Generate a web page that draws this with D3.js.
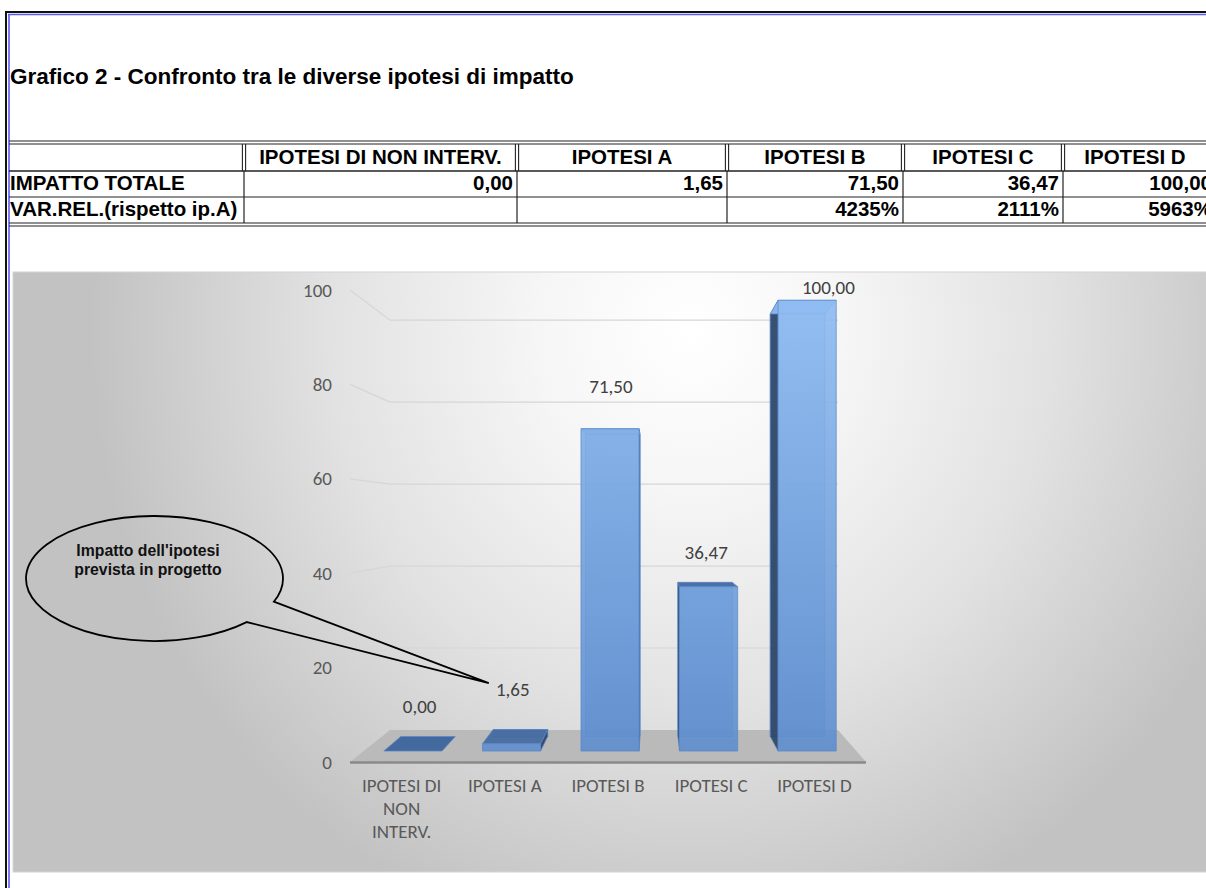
<!DOCTYPE html>
<html>
<head>
<meta charset="utf-8">
<script src="https://cdn.jsdelivr.net/npm/d3@7"></script>
<style>
  body { margin: 0; background: #ffffff; }
  svg { display: block; }
</style>
</head>
<body>
<svg id="chart" width="1206" height="888"></svg>
<script>
// ---- data ----
const title = "Grafico 2 - Confronto tra le diverse ipotesi di impatto";
const categories = ["IPOTESI DI NON INTERV.", "IPOTESI A", "IPOTESI B", "IPOTESI C", "IPOTESI D"];
const impattoTotale = [0.00, 1.65, 71.50, 36.47, 100.00];
const varRel = [null, null, 4235, 2111, 5963];          // % rispetto ip.A
const rowLabels = ["IMPATTO TOTALE", "VAR.REL.(rispetto ip.A)"];
const yTicks = [0, 20, 40, 60, 80, 100];
const calloutLines = ["Impatto dell'ipotesi", "prevista in progetto"];
const calloutTarget = "IPOTESI A";

// ---- formatting (Italian locale) ----
const it = d3.formatLocale({ decimal: ",", thousands: ".", grouping: [3], currency: ["€", ""] });
const fmt2 = it.format(".2f");
const fmtPct = v => it.format("d")(v) + "%";

const svg = d3.select("#chart");
const defs = svg.append("defs");

const TABLE_FONT = "'Liberation Sans', Arial, Helvetica, sans-serif";
const CHART_FONT = "Carlito, Calibri, Lato, 'Open Sans', sans-serif";
const CHART_SIZE = 19;

// ---- outer sheet frame ----
svg.append("line").attr("x1", 6).attr("x2", 6).attr("y1", 11).attr("y2", 888).attr("stroke", "#111").attr("stroke-width", 2);
svg.append("line").attr("x1", 5).attr("x2", 1206).attr("y1", 12).attr("y2", 12).attr("stroke", "#111").attr("stroke-width", 2);
svg.append("line").attr("x1", 9).attr("x2", 9).attr("y1", 14).attr("y2", 888).attr("stroke", "#5a5af0").attr("stroke-width", 1.6);
svg.append("line").attr("x1", 8).attr("x2", 1206).attr("y1", 14.5).attr("y2", 14.5).attr("stroke", "#5a5af0").attr("stroke-width", 1.6);

// ---- title ----
svg.append("text")
  .attr("x", 10).attr("y", 84)
  .attr("font-family", TABLE_FONT).attr("font-weight", "bold").attr("font-size", 22.5)
  .attr("fill", "#000")
  .text(title);

// ---- summary table ----
const colEdges = [9, 244, 517, 727, 903, 1063, 1218];
const tTop = 141, tHead = 171, tRow1 = 197, tBottom = 223;
const tg = svg.append("g").attr("font-family", TABLE_FONT).attr("font-weight", "bold").attr("font-size", 20.5).attr("fill", "#000");

// horizontal rules
[[tTop, 1.2], [tTop + 3, 1.2], [tHead, 1.4], [tRow1, 1.2], [tBottom, 1.2], [tBottom + 3, 1.2]].forEach(([yy, w]) => {
  tg.append("line").attr("x1", 9).attr("x2", 1206).attr("y1", yy).attr("y2", yy)
    .attr("stroke", "#222").attr("stroke-width", w);
});
// vertical rules: double in header row, single in data rows
colEdges.slice(1, -1).forEach(cx => {
  [-1.6, 1.6].forEach(o => tg.append("line").attr("x1", cx + o).attr("x2", cx + o)
    .attr("y1", tTop + 3).attr("y2", tHead).attr("stroke", "#222").attr("stroke-width", 1.1));
  tg.append("line").attr("x1", cx).attr("x2", cx).attr("y1", tHead).attr("y2", tBottom)
    .attr("stroke", "#222").attr("stroke-width", 1.2);
});
// header labels
categories.forEach((c, i) => {
  const last = i === categories.length - 1;
  tg.append("text")
    .attr("x", last ? colEdges[i + 1] + 72 : (colEdges[i + 1] + colEdges[i + 2]) / 2)
    .attr("y", 164).attr("text-anchor", "middle").text(c);
});
// row labels
tg.append("text").attr("x", 10).attr("y", 190).text(rowLabels[0]);
tg.append("text").attr("x", 10).attr("y", 216).text(rowLabels[1]);
// values (right aligned; the last column runs past the sheet edge)
const valueX = i => colEdges[i + 2] - 4 - (i === categories.length - 1 ? 2 : 0);
impattoTotale.forEach((v, i) => {
  tg.append("text").attr("x", valueX(i)).attr("y", 190).attr("text-anchor", "end").text(fmt2(v));
});
varRel.forEach((v, i) => {
  if (v == null) return;
  tg.append("text").attr("x", valueX(i)).attr("y", 216).attr("text-anchor", "end").text(fmtPct(v));
});

// ---- chart area with soft gray gradient ----
const bg = defs.append("radialGradient").attr("id", "bgGrad")
  .attr("gradientUnits", "userSpaceOnUse")
  .attr("cx", 690).attr("cy", 330).attr("r", 600)
  .attr("gradientTransform", "translate(690 330) scale(1 1.05) translate(-690 -330)");
[[0, "#ffffff"], [0.25, "#f6f6f6"], [0.6, "#e2e2e2"], [1, "#c2c2c2"]].forEach(([o, c]) =>
  bg.append("stop").attr("offset", o).attr("stop-color", c));

svg.append("rect").attr("x", 13).attr("y", 272).attr("width", 1200).attr("height", 600)
  .attr("fill", "url(#bgGrad)").attr("stroke", "#d4d4d4").attr("stroke-width", 1);

// ---- 3D projection helpers ----
const x = d3.scaleBand().domain(categories).range([350, 866]).paddingInner(0.41).paddingOuter(0.205);
const y = d3.scaleLinear().domain([0, 100]).range([762, 290]);
const VX = 653.5, VY = 519;          // vanishing point
const Z_WALL = 0.1318;                // depth of back wall
const Z_BAR0 = 0.045, Z_BAR1 = 0.105; // bar depth span
const proj = (px, py, z) => [px + (VX - px) * z, py + (VY - py) * z];
const poly = pts => "M" + pts.map(p => p.join(",")).join("L") + "Z";

const plot = svg.append("g");

// gridlines on side wall and back wall
yTicks.filter(t => t > 0).forEach(t => {
  const f = [x.range()[0], y(t)];
  const bl = proj(x.range()[0], y(t), Z_WALL);
  const br = proj(x.range()[1], y(t), Z_WALL);
  plot.append("path").attr("d", `M${f}L${bl}L${br}`)
    .attr("fill", "none").attr("stroke", "#d6d6d6").attr("stroke-width", 1.2);
});

// floor
const fl = [[x.range()[0], y(0)], [x.range()[1], y(0)], proj(x.range()[1], y(0), Z_WALL), proj(x.range()[0], y(0), Z_WALL)];
plot.append("path").attr("d", poly(fl)).attr("fill", "#bababa");
plot.append("line").attr("x1", x.range()[0]).attr("x2", x.range()[1]).attr("y1", y(0) + 0.5).attr("y2", y(0) + 0.5)
  .attr("stroke", "#8a8a8a").attr("stroke-width", 2.6);

// bar gradient
const bgBar = defs.append("linearGradient").attr("id", "barGrad")
  .attr("gradientUnits", "userSpaceOnUse").attr("x1", 0).attr("x2", 0).attr("y1", y(100)).attr("y2", y(0));
[[0, "#8fbcf2"], [1, "#5d8ccd"]].forEach(([o, c]) => bgBar.append("stop").attr("offset", o).attr("stop-color", c));

// bars
const bars = plot.append("g");
categories.forEach((c, i) => {
  const v = impattoTotale[i];
  const x0 = x(c), x1 = x(c) + x.bandwidth();
  const yb = y(0), yt = y(v);
  const FBL = proj(x0, yb, Z_BAR0), FBR = proj(x1, yb, Z_BAR0), FTL = proj(x0, yt, Z_BAR0), FTR = proj(x1, yt, Z_BAR0);
  const BBL = proj(x0, yb, Z_BAR1), BBR = proj(x1, yb, Z_BAR1), BTL = proj(x0, yt, Z_BAR1), BTR = proj(x1, yt, Z_BAR1);
  const g = bars.append("g");
  const stroke = "#5b87c6";
  const face = (pts, fill, op) => g.append("path").attr("d", poly(pts)).attr("fill", fill)
    .attr("fill-opacity", op).attr("stroke", stroke).attr("stroke-width", 0.9).attr("stroke-opacity", 0.8);

  const leftVisible = (x0 + x1) / 2 > VX;
  if (v > 0) {
    face([BBL, BBR, BTR, BTL], "url(#barGrad)", 0.55);               // back
    const side = leftVisible ? [FBL, BBL, BTL, FTL] : [FBR, BBR, BTR, FTR];
    face(side, "#2c4466", 0.92);                                     // visible side
  }
  const topFromAbove = FTL[1] > BTL[1];
  face([FTL, FTR, BTR, BTL], topFromAbove ? "#43699f" : "#93bff3", v > 0 ? 0.92 : 1); // top
  if (v > 0) face([FBL, FBR, FTR, FTL], "url(#barGrad)", 0.9);       // front
});

// value labels (nudged to sit clear of the 3D tops)
const labelNudge = [[18, -56], [8, -65], [3, -38.5], [-5, -38], [14, -3]];
const vl = plot.append("g").attr("font-family", CHART_FONT).attr("font-size", CHART_SIZE).attr("fill", "#404040")
  .attr("text-anchor", "middle");
categories.forEach((c, i) => {
  const v = impattoTotale[i];
  vl.append("text")
    .attr("x", x(c) + x.bandwidth() / 2 + labelNudge[i][0])
    .attr("y", y(v) + labelNudge[i][1])
    .attr("dy", "0.35em")
    .text(fmt2(v));
});

// y axis tick labels
const ya = plot.append("g").attr("font-family", CHART_FONT).attr("font-size", CHART_SIZE).attr("fill", "#595959")
  .attr("text-anchor", "end");
yTicks.forEach(t => ya.append("text").attr("x", 332).attr("y", y(t)).attr("dy", "0.35em").text(t));

// category labels, wrapped to the band width
const xa = plot.append("g").attr("font-family", CHART_FONT).attr("font-size", CHART_SIZE).attr("fill", "#595959")
  .attr("text-anchor", "middle");
categories.forEach(c => {
  const cx = x(c) + x.bandwidth() / 2;
  const t = xa.append("text").attr("x", cx).attr("y", 792);
  const words = c.split(" ");
  let lines = [], cur = [];
  const probe = xa.append("text").attr("visibility", "hidden");
  words.forEach(w => {
    const test = cur.concat(w).join(" ");
    probe.text(test);
    if (cur.length && probe.node().getComputedTextLength() > 92) { lines.push(cur.join(" ")); cur = [w]; }
    else cur.push(w);
  });
  lines.push(cur.join(" "));
  probe.remove();
  lines.forEach((ln, k) => t.append("tspan").attr("x", cx).attr("dy", k ? 23 : 0).text(ln));
});

// ---- callout pointing at the project hypothesis ----
const ecx = 154.5, ecy = 578.5, erx = 128.5, ery = 62.5;
const a1 = 21.8 * Math.PI / 180, a2 = 44.2 * Math.PI / 180;
const pA = [ecx + erx * Math.cos(a1), ecy + ery * Math.sin(a1)];
const pB = [ecx + erx * Math.cos(a2), ecy + ery * Math.sin(a2)];
const tip = [x(calloutTarget) + x.bandwidth() / 2 - 16, y(impattoTotale[categories.indexOf(calloutTarget)]) - 71];
const co = svg.append("g");
co.append("path")
  .attr("d", `M${pA}L${tip}L${pB}A${erx},${ery} 0 1 1 ${pA}Z`)
  .attr("fill", "none").attr("stroke", "#000").attr("stroke-width", 1.8).attr("stroke-linejoin", "miter");
co.append("g").attr("font-family", TABLE_FONT).attr("font-weight", "bold").attr("font-size", 15.8)
  .attr("text-anchor", "middle").attr("fill", "#111")
  .selectAll("text").data(calloutLines).join("text")
  .attr("x", 148).attr("y", (d, i) => 556 + i * 19).text(d => d);
</script>
</body>
</html>
